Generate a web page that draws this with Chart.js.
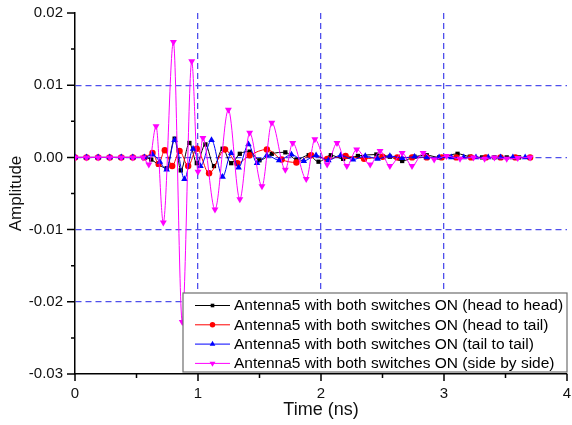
<!DOCTYPE html>
<html>
<head>
<meta charset="utf-8">
<script src="https://cdn.jsdelivr.net/npm/chart.js@4/dist/chart.umd.min.js"></script>
<style>
  html, body { margin: 0; padding: 0; background: #ffffff; }
  #wrap { width: 572px; height: 425px; position: relative; }
</style>
</head>
<body>
<div id="wrap"><canvas id="c" width="572" height="425"></canvas></div>
<script>
// ---------- data ----------
const seriesNames = [
  'Antenna5 with both switches ON (head to head)',
  'Antenna5 with both switches ON (head to tail)',
  'Antenna5 with both switches ON (tail to tail)',
  'Antenna5 with both switches ON (side by side)'
];

const headHeadT = [0,0.094,0.188,0.282,0.376,0.47,0.564,0.62,0.68,0.745,0.81,0.86,0.93,0.99,1.06,1.13,1.20,1.27,1.34,1.42,1.50,1.60,1.71,1.80,1.90,1.98,2.08,2.18,2.30,2.45,2.56,2.66,2.76,2.86,2.96,3.11,3.21,3.31,3.41,3.51,3.61];
const headHeadV = [0,0,0,0,0,0,0,-0.0003,-0.001,-0.0015,0.0026,-0.0018,0.002,-0.0008,0.0018,-0.0012,0.0012,-0.0008,0.0005,0.0008,-0.0004,0.0005,0.0007,-0.0003,0.0003,-0.0006,0.0003,-0.0002,0.0002,0.0004,0.0001,-0.0005,0.0001,0.0003,0,0.0005,0.0001,0,0,0,0];

const headTailT = [0,0.094,0.188,0.282,0.376,0.47,0.564,0.63,0.68,0.73,0.79,0.85,0.92,0.99,1.09,1.22,1.32,1.42,1.56,1.68,1.80,1.92,2.05,2.20,2.35,2.50,2.62,2.74,2.86,2.98,3.10,3.22,3.34,3.46,3.58,3.70];
const headTailV = [0,0,0,0,0,0,0,0.0006,-0.0009,0.001,-0.0012,0.0009,-0.0012,0.0012,-0.0022,0.0011,-0.0008,0.0003,0.0011,-0.0003,-0.0007,0.0003,-0.0002,0.0002,-0.0002,0.0001,0,0,0,0,0,0,0,0,0,0];

const tailTailT = [0,0.094,0.188,0.282,0.376,0.47,0.564,0.63,0.69,0.745,0.81,0.89,0.96,1.02,1.11,1.20,1.27,1.33,1.41,1.48,1.56,1.66,1.76,1.86,1.96,2.06,2.16,2.26,2.36,2.46,2.56,2.66,2.76,2.86,2.96,3.06,3.16,3.26,3.36,3.46,3.56,3.66];
const tailTailV = [0,0,0,0,0,0,0,0.0004,-0.0006,-0.0017,0.0024,-0.003,0.0012,-0.0012,0.0024,-0.0027,0.0006,-0.0014,0.0018,-0.0008,0.0003,-0.0004,0.0004,-0.0005,0.0003,-0.0004,0.0003,-0.0003,0.0002,-0.0002,0.0002,-0.0001,0.0001,0,0,0,0,0,0,0,0,0];

const sideSideT = [0,0.094,0.188,0.282,0.376,0.47,0.553,0.60,0.659,0.718,0.80,0.872,0.949,1.00,1.04,1.138,1.247,1.34,1.42,1.52,1.60,1.71,1.77,1.88,1.95,2.05,2.13,2.21,2.29,2.40,2.48,2.56,2.66,2.74,2.83,2.92,3.02,3.13,3.24,3.33,3.41,3.51,3.60,3.70];
const sideSideV = [0,0,0,0,0,0,0,-0.001,0.0043,-0.009,0.016,-0.0228,0.0133,-0.002,0.0027,-0.0072,0.0066,-0.0058,0.0034,-0.004,0.0048,-0.0017,0.002,-0.003,0.0025,-0.001,0.002,-0.0012,0.0011,-0.001,0.0009,-0.0012,0.0006,-0.0012,0.0006,-0.0003,0.0002,-0.0002,0,-0.0002,0,-0.0002,-0.0001,0];

const xTickLabels = ['0','1','2','3','4'];
const yTickLabels = ['-0.03','-0.02','-0.01','0.00','0.01','0.02'];
const xTitle = 'Time (ns)';
const yTitle = 'Amplitude';

// ---------- build datasets ----------
function pts(t, v) { return t.map((x, i) => ({ x: x, y: v[i] })); }
const styles = [
  { color: '#000000', pointStyle: 'rect', rotation: 0, radius: 3 },
  { color: '#ff0000', pointStyle: 'circle', rotation: 0, radius: 3.2 },
  { color: '#0000ff', pointStyle: 'triangle', rotation: 0, radius: 3.8 },
  { color: '#ff00ff', pointStyle: 'triangle', rotation: 180, radius: 4 }
];
const allT = [headHeadT, headTailT, tailTailT, sideSideT];
const allV = [headHeadV, headTailV, tailTailV, sideSideV];

const datasets = seriesNames.map((name, i) => ({
  label: name,
  data: pts(allT[i], allV[i]),
  showLine: true,
  borderColor: styles[i].color,
  backgroundColor: styles[i].color,
  borderWidth: 1,
  pointStyle: styles[i].pointStyle,
  pointRotation: styles[i].rotation,
  pointRadius: styles[i].radius,
  pointBorderWidth: 0,
  cubicInterpolationMode: 'monotone',
  order: 3 - i
}));

const GRID = '#4f4fec';
const FONT = "'Liberation Sans', Arial, sans-serif";

function isMajorX(v) { return Math.abs(v - Math.round(v)) < 1e-6; }
function yIndex(v) { return Math.round(v / 0.005); }

// ticks (major / minor) drawn at the scales' own tick positions
const tickMarks = {
  id: 'tickMarks',
  afterDraw(chart) {
    const ctx = chart.ctx;
    const xs = chart.scales.x, ys = chart.scales.y;
    const area = chart.chartArea;
    ctx.save();
    ctx.strokeStyle = '#000';
    ctx.lineWidth = 1.5;
    ctx.beginPath();
    xs.ticks.forEach(t => {
      const p = xs.getPixelForValue(t.value);
      const len = isMajorX(t.value) ? 7 : 4;
      ctx.moveTo(p, area.bottom);
      ctx.lineTo(p, area.bottom + len);
    });
    ys.ticks.forEach(t => {
      const p = ys.getPixelForValue(t.value);
      const len = (yIndex(t.value) % 2 === 0) ? 8 : 4;
      ctx.moveTo(area.left, p);
      ctx.lineTo(area.left - len, p);
    });
    ctx.stroke();
    ctx.restore();
  }
};

// legend box inside the plot, lower right
const legendBox = {
  id: 'legendBox',
  afterDraw(chart) {
    const ctx = chart.ctx;
    const area = chart.chartArea;
    const right = area.right, bottom = area.bottom - 2;
    const left = 183, top = 293;
    ctx.save();
    ctx.fillStyle = '#ffffff';
    ctx.fillRect(left, top, right - left, bottom - top);
    ctx.strokeStyle = '#6e6e6e';
    ctx.lineWidth = 1.2;
    ctx.strokeRect(left, top, right - left, bottom - top);
    ctx.font = '15.5px ' + FONT;
    ctx.textBaseline = 'middle';
    ctx.textAlign = 'left';
    chart.data.datasets.forEach((ds, i) => {
      const y = top + 12.5 + i * 19.3;
      ctx.strokeStyle = ds.borderColor;
      ctx.lineWidth = 1;
      ctx.beginPath();
      ctx.moveTo(195, y);
      ctx.lineTo(230, y);
      ctx.stroke();
      ctx.fillStyle = ds.backgroundColor;
      Chart.helpers.drawPoint(ctx, {
        pointStyle: ds.pointStyle, radius: ds.pointRadius * 0.85,
        rotation: ds.pointRotation, borderWidth: 0
      }, 212.5, y);
      ctx.fillStyle = '#000';
      ctx.fillText(ds.label, 234, y + 0.5);
    });
    ctx.restore();
  }
};

new Chart(document.getElementById('c'), {
  type: 'scatter',
  data: { datasets },
  options: {
    responsive: false,
    animation: false,
    devicePixelRatio: 1,
    layout: { padding: { top: 13, right: 5, left: 0, bottom: 0 } },
    plugins: {
      legend: { display: false },
      tooltip: { enabled: false }
    },
    scales: {
      x: {
        type: 'linear',
        min: 0, max: 4,
        afterFit(s) { s.height = 51; s.paddingLeft = 0; s.paddingRight = 0; },
        ticks: {
          stepSize: 0.5,
          autoSkip: false,
          maxRotation: 0,
          padding: 11,
          color: '#111',
          font: { family: FONT, size: 15 },
          callback(v) { return isMajorX(v) ? xTickLabels[Math.round(v)] : ''; }
        },
        grid: {
          drawTicks: false,
          lineWidth: 1.3,
          color(c) {
            const v = c.tick ? c.tick.value : null;
            return (v !== null && isMajorX(v) && v > 0 && v < 4) ? GRID : 'rgba(0,0,0,0)';
          }
        },
        border: { display: true, color: '#000', width: 1.5, dash: [6, 4] },
        title: {
          display: true, text: xTitle, color: '#111',
          font: { family: FONT, size: 18 },
          padding: { top: 0, bottom: 4 }
        }
      },
      y: {
        type: 'linear',
        min: -0.03, max: 0.02,
        afterFit(s) { s.width = 75; s.paddingTop = 0; s.paddingBottom = 0; },
        ticks: {
          stepSize: 0.005,
          autoSkip: false,
          padding: 12,
          color: '#111',
          font: { family: FONT, size: 15 },
          callback(v) {
            const k = yIndex(v);
            return (k % 2 === 0) ? yTickLabels[k / 2 + 3] : '';
          }
        },
        grid: {
          drawTicks: false,
          lineWidth: 1.3,
          color(c) {
            const v = c.tick ? c.tick.value : null;
            if (v === null) return 'rgba(0,0,0,0)';
            const k = yIndex(v);
            return (k % 2 === 0 && k > -6 && k < 4) ? GRID : 'rgba(0,0,0,0)';
          }
        },
        border: { display: true, color: '#000', width: 1.5, dash: [6, 4] },
        title: {
          display: true, text: yTitle, color: '#111',
          font: { family: FONT, size: 17 },
          padding: { top: 6, bottom: 0 }
        }
      }
    }
  },
  plugins: [tickMarks, legendBox]
});
</script>
</body>
</html>
